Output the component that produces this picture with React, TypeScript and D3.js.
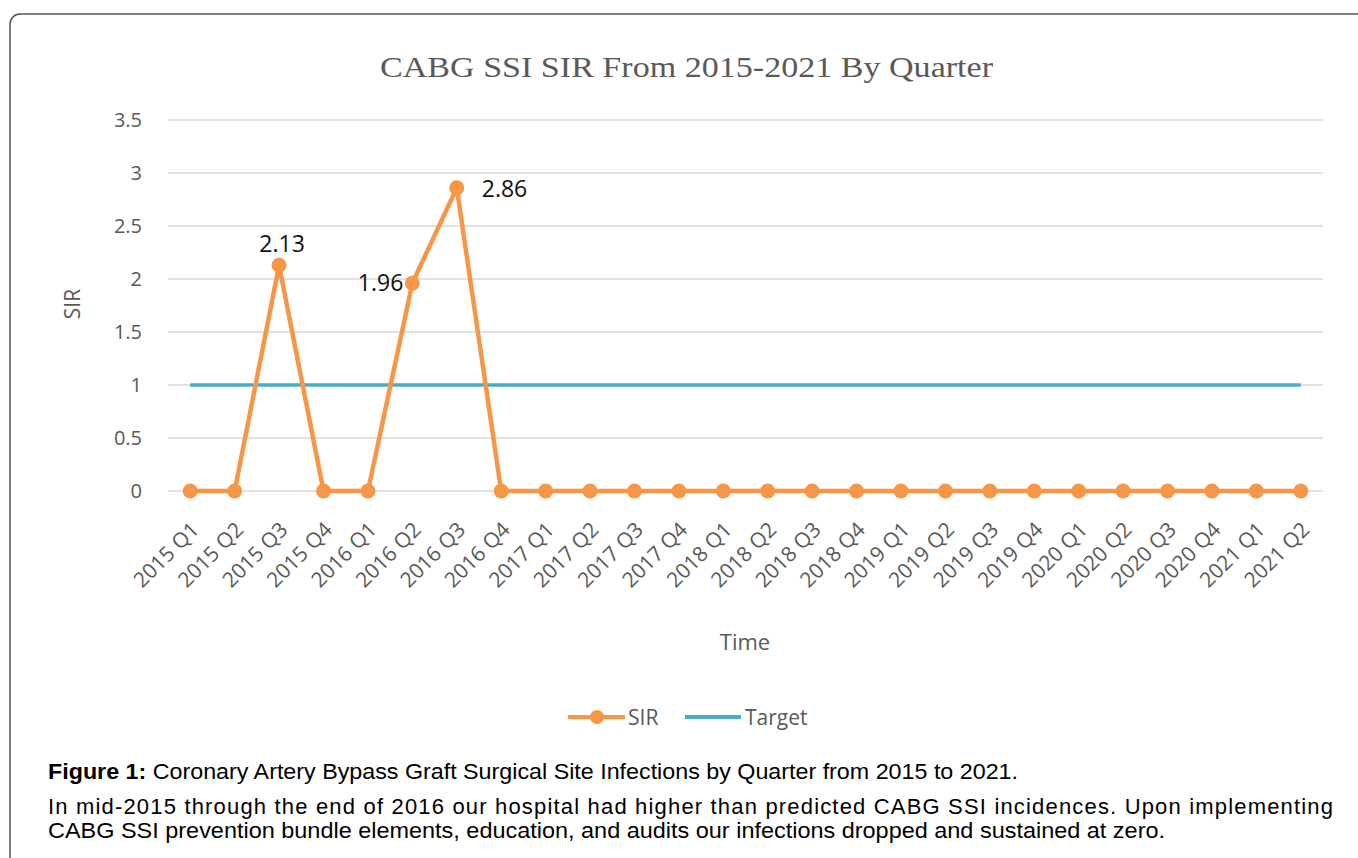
import { useEffect } from 'react';
import * as d3 from 'd3';

const quarters = [
  '2015 Q1', '2015 Q2', '2015 Q3', '2015 Q4',
  '2016 Q1', '2016 Q2', '2016 Q3', '2016 Q4',
  '2017 Q1', '2017 Q2', '2017 Q3', '2017 Q4',
  '2018 Q1', '2018 Q2', '2018 Q3', '2018 Q4',
  '2019 Q1', '2019 Q2', '2019 Q3', '2019 Q4',
  '2020 Q1', '2020 Q2', '2020 Q3', '2020 Q4',
  '2021 Q1', '2021 Q2',
];
const sirValues = [0, 0, 2.13, 0, 0, 1.96, 2.86, 0, 0, 0, 0, 0, 0, 0, 0, 0, 0, 0, 0, 0, 0, 0, 0, 0, 0, 0];
const targetValues = quarters.map(() => 1);
const yTicks = [0, 0.5, 1, 1.5, 2, 2.5, 3, 3.5];
// where each non-zero data label sits relative to its point
const labelPlacement: Record<number, 'top' | 'left' | 'right'> = { 2: 'top', 5: 'left', 6: 'right' };

const ORANGE = '#F79646';
const TEAL = '#4BACC6';
const GREY = '#595959';
const SANS = '"Open Sans", "Noto Sans", sans-serif';
const ARIAL = '"Liberation Sans", Arial, sans-serif';

const W = 1358;
const H = 858;
const margin = { top: 120, right: 35, bottom: 367, left: 168 };

export default function App() {
  useEffect(() => {
    document.body.style.margin = '0';
  }, []);

  const x = d3.scaleBand<string>()
    .domain(quarters)
    .range([margin.left, W - margin.right]);
  const y = d3.scaleLinear()
    .domain([0, 3.5])
    .range([H - margin.bottom, margin.top]);
  const cx = (q: string) => (x(q) || 0) + x.bandwidth() / 2;

  const line = d3.line<number>()
    .x((_, i) => cx(quarters[i]))
    .y(d => y(d));

  const caption1 = 'In mid-2015 through the end of 2016 our hospital had higher than predicted CABG SSI incidences. Upon implementing';
  const caption2 = 'CABG SSI prevention bundle elements, education, and audits our infections dropped and sustained at zero.';

  return (
    <svg width={W} height={H} style={{ display: 'block', background: '#fff' }}>
      <rect x={10} y={14} width={W + 20} height={H + 20} rx={10} fill="none" stroke="#555" strokeWidth={1.5} />

      <text x={380} y={77} fill={GREY} textLength={613} lengthAdjust="spacingAndGlyphs"
        style={{ fontFamily: '"Liberation Serif", "DejaVu Serif", serif', fontSize: 30 }}>
        CABG SSI SIR From 2015-2021 By Quarter
      </text>

      {/* gridlines */}
      {yTicks.map(t => (
        <line key={t} x1={margin.left} x2={W - margin.right} y1={y(t)} y2={y(t)} stroke="#D9D9D9" strokeWidth={1.3} />
      ))}
      {yTicks.map(t => (
        <text key={'l' + t} x={142} y={y(t) + 7} textAnchor="end" fill={GREY}
          style={{ fontFamily: SANS, fontSize: 20 }}>{t}</text>
      ))}

      <text transform={`translate(80, ${y(2)}) rotate(-90)`} y={0} x={-25} textAnchor="middle" fill={GREY}
        style={{ fontFamily: SANS, fontSize: 21 }}>SIR</text>

      {/* x tick labels */}
      {quarters.map(q => (
        <text key={q} transform={`translate(${cx(q) + 10}, ${y(0) + 40}) rotate(-45)`} textAnchor="end" fill={GREY}
          style={{ fontFamily: SANS, fontSize: 21 }}>{q}</text>
      ))}

      <text x={745} y={650} textAnchor="middle" fill={GREY} style={{ fontFamily: SANS, fontSize: 22 }}>Time</text>

      {/* target */}
      <path d={line(targetValues) || ''} fill="none" stroke={TEAL} strokeWidth={3.5} />

      {/* SIR */}
      <path d={line(sirValues) || ''} fill="none" stroke={ORANGE} strokeWidth={4.5} strokeLinejoin="round" />
      {sirValues.map((v, i) => (
        <circle key={i} cx={cx(quarters[i])} cy={y(v)} r={7.5} fill={ORANGE} />
      ))}
      {sirValues.map((v, i) => {
        const p = labelPlacement[i];
        if (!p) return null;
        const px = cx(quarters[i]);
        const py = y(v);
        const pos = p === 'top' ? { x: px + 3, y: py - 13, a: 'middle' }
          : p === 'left' ? { x: px - 9, y: py + 8, a: 'end' }
          : { x: px + 25, y: py + 9, a: 'start' };
        return (
          <text key={'d' + i} x={pos.x} y={pos.y} textAnchor={pos.a as any} fill="#111"
            style={{ fontFamily: SANS, fontSize: 23 }}>{v.toFixed(2)}</text>
        );
      })}

      {/* legend */}
      <line x1={568} x2={625} y1={717} y2={717} stroke={ORANGE} strokeWidth={4} />
      <circle cx={597} cy={717} r={7} fill={ORANGE} />
      <text x={628} y={725} fill={GREY} style={{ fontFamily: SANS, fontSize: 21 }}>SIR</text>
      <line x1={685} x2={741} y1={717} y2={717} stroke={TEAL} strokeWidth={4} />
      <text x={745} y={725} fill={GREY} style={{ fontFamily: SANS, fontSize: 21 }}>Target</text>

      {/* caption */}
      <text x={48} y={779} fill="#000" textLength={970} lengthAdjust="spacingAndGlyphs"
        style={{ fontFamily: ARIAL, fontSize: 22 }}>
        <tspan fontWeight="bold">Figure 1:</tspan> Coronary Artery Bypass Graft Surgical Site Infections by Quarter from 2015 to 2021.
      </text>
      <text x={48} y={814} fill="#000" textLength={1285} lengthAdjust="spacing"
        style={{ fontFamily: ARIAL, fontSize: 22 }}>{caption1}</text>
      <text x={48} y={838} fill="#000" textLength={1117} lengthAdjust="spacingAndGlyphs"
        style={{ fontFamily: ARIAL, fontSize: 22 }}>{caption2}</text>
    </svg>
  );
}
